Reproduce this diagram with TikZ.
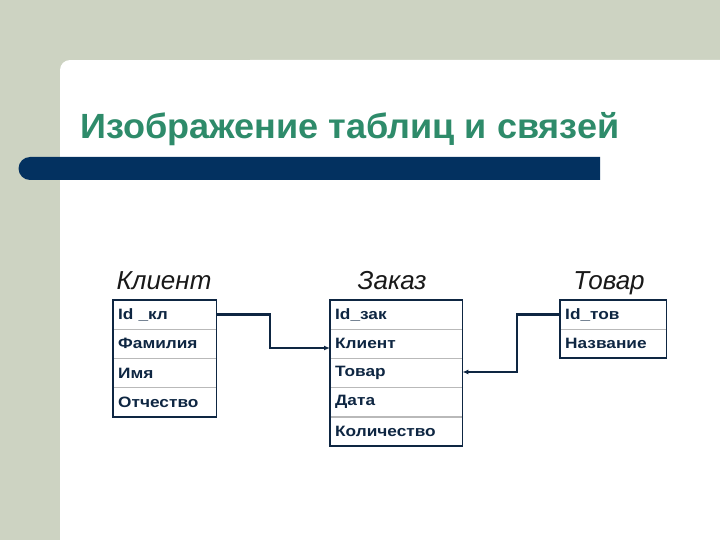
\documentclass[tikz,border=0pt]{standalone}
\usepackage{fontspec}
\setmainfont{Liberation Sans}
\newfontfamily\polefont[FakeStretch=1.15]{Liberation Sans}
\newfontfamily\titlefont[FakeStretch=1.03]{Liberation Sans}
\usetikzlibrary{positioning, arrows.meta}
\definecolor{fon}{RGB}{205,211,194}
\definecolor{polosa}{RGB}{3,49,96}
\definecolor{zagolovok}{RGB}{46,139,106}
\definecolor{chernila}{RGB}{14,38,66}

\begin{document}
\begin{tikzpicture}[x=1pt,y=-1pt,
	pole/.style={draw=gray!55, line width=0.4pt, anchor=north west, minimum height=28.75pt,
		inner xsep=5pt, inner ysep=0pt, align=left, text=chernila,
		font=\polefont\bfseries\fontsize{15}{17}\selectfont},
	shapka/.style={font=\itshape\fontsize{26}{29}\selectfont, text=black!90, anchor=base},
	ramka/.style={draw=chernila, line width=1.8pt},
	svyaz/.style={chernila, line width=2.4pt, -{Latex[length=6pt,width=5pt]}}]
	% Фон слайда
	\fill[fon] (0,0) rectangle (720,540);
	\fill[white] (60,540) -- (60,70) arc (180:270:10) -- (720,60) -- (720,540) -- cycle;
	\fill[fon] (60,0) rectangle (250,60);
	% Заголовок и полоса
	\node[font=\titlefont\bfseries\fontsize{35}{40}\selectfont, text=zagolovok, anchor=base west,
		inner sep=0pt] (zag) at (80,139) {Изображение таблиц и связей};
	\fill[polosa] (600,157) -- (30,157) arc (270:90:11.5) -- (600,180) -- cycle;
	% Клиент
	\node[shapka] (klient) at (164,289) {Клиент};
	\node[pole, text width=93pt] (kl1) at (113,300) {Id \_кл};
	\node[pole, text width=93pt, below=0pt of kl1] (kl2) {Фамилия};
	\node[pole, text width=93pt, below=0pt of kl2] (kl3) {Имя};
	\node[pole, text width=93pt, below=0pt of kl3] (kl4) {Отчество};
	\draw[ramka] (kl1.north west) rectangle (kl4.south east);
	% Заказ
	\node[shapka] (zakaz) at (392,289) {Заказ};
	\node[pole, text width=122pt] (zk1) at (330,300) {Id\_зак};
	\node[pole, text width=122pt, below=0pt of zk1] (zk2) {Клиент};
	\node[pole, text width=122pt, below=0pt of zk2] (zk3) {Товар};
	\node[pole, text width=122pt, below=0pt of zk3] (zk4) {Дата};
	\node[pole, text width=122pt, below=0pt of zk4] (zk5) {Количество};
	\draw[ramka] (zk1.north west) rectangle (zk5.south east);
	% Товар
	\node[shapka] (tovar) at (609,289) {Товар};
	\node[pole, text width=96pt] (tv1) at (560,300) {Id\_тов};
	\node[pole, text width=96pt, below=0pt of tv1] (tv2) {Название};
	\draw[ramka] (tv1.north west) rectangle (tv2.south east);
	% Связи
	\coordinate (izlom1) at (270,348);
	\coordinate (izlom2) at (517,372);
	\draw[svyaz] (kl1.east) -- (kl1.east -| izlom1) -- (izlom1) -- (izlom1 -| zk2.west);
	\draw[svyaz] (tv1.west) -- (tv1.west -| izlom2) -- (izlom2) -- (izlom2 -| zk3.east);
\end{tikzpicture}
\end{document}
